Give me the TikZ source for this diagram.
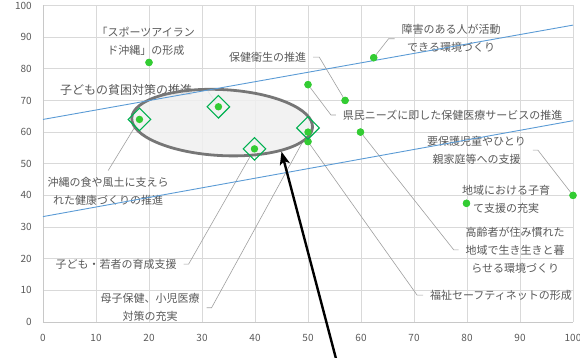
\documentclass[tikz,border=0pt]{standalone}
\usepackage{fontspec}
\setmainfont{Noto Sans CJK JP}
\usetikzlibrary{positioning,shapes,arrows.meta}
\definecolor{txtgray}{HTML}{595959}
\definecolor{gridgray}{HTML}{D9D9D9}
\definecolor{axisgray}{HTML}{C8C8C8}
\definecolor{trendblue}{HTML}{5B9BD5}
\definecolor{ptgreen}{HTML}{33CC33}
\definecolor{dmgreen}{HTML}{00B050}
\definecolor{ringgray}{HTML}{767676}
\definecolor{ringfill}{HTML}{F0F0F0}

\begin{document}
\begin{tikzpicture}[
            x=5.3pt, y=3.165pt,
            gridline/.style={ draw=gridgray, line width=0.8pt },
            axisline/.style={ draw=axisgray, line width=0.9pt },
            tick/.style={ text=txtgray, font=\fontsize{10}{12}\selectfont, inner sep=0pt },
            lbl/.style={ text=txtgray, font=\fontsize{11}{18}\selectfont, align=center, inner sep=3pt, outer sep=4pt },
            leader/.style={ draw=gray!75, line width=0.6pt },
            trend/.style={ draw=trendblue, line width=0.9pt },
            pt/.style={ circle, fill=ptgreen, inner sep=0pt, minimum size=7.4pt },
            mark box/.style={ diamond, draw=dmgreen, line width=1.1pt, inner sep=0pt, minimum width=23pt, minimum height=23pt },
            ring/.style={ ellipse, draw=ringgray, line width=2.8pt, fill=ringfill, fill opacity=0.85, minimum width=181pt, minimum height=66pt, rotate=-3 },
            pointer/.style={ draw=black, line width=2.4pt, -{Stealth[length=13pt,width=10pt,inset=3pt]} }
        ]
        \useasboundingbox (-43pt,-36pt) rectangle (537pt,322pt);

        \draw[gridline] (0,0) grid[xstep=10,ystep=10] (100,100);
        \draw[axisline] (0,100) -- (0,0) -- (100,0);
        \foreach \v in {0,10,...,100} {
            \node[tick, anchor=east] (y\v) at ([xshift=-11pt]0,\v) {\v};
            \node[tick] (x\v) at ([yshift=-16pt]\v,0) {\v};
        }

        \node[pt] (p1)  at (20,82) {};
        \node[pt] (p2)  at (18.2,64) {};
        \node[pt] (p3)  at (33.1,68) {};
        \node[pt] (p4)  at (39.9,54.7) {};
        \node[pt] (p5)  at (62.4,83.5) {};
        \node[pt] (p6)  at (50,75) {};
        \node[pt] (p7)  at (57,70) {};
        \node[pt] (p8)  at (50,60) {};
        \node[pt] (p9)  at (50,57) {};
        \node[pt] (p10) at (59.9,60) {};
        \node[pt] (p11) at (79.9,37.5) {};
        \node[pt] (p12) at (100,40) {};

        \node[lbl] (l1)  at (19.4,88.8) {「スポーツアイラン\\ド沖縄」の形成};
        \node[lbl] (l2)  at (42.4,83.7) {保健衛生の推進};
        \node[lbl] (l3)  at (77,89.5) {障害のある人が活動\\できる環境づくり};
        \node[lbl] (l4)  at (77.3,65.4) {県民ニーズに即した保健医療サービスの推進};
        \node[lbl, font=\fontsize{12}{18}\selectfont] (l5) at (15.7,73.3) {子どもの貧困対策の推進};
        \node[lbl] (l6)  at (12.3,41.2) {沖縄の食や風土に支えら\\れた健康づくりの推進};
        \node[lbl] (l7)  at (13.8,18.3) {子ども・若者の育成支援};
        \node[lbl] (l8)  at (20.2,4.5) {母子保健、小児医療\\対策の充実};
        \node[lbl] (l9)  at (86.4,8.5) {福祉セーフティネットの形成};
        \node[lbl] (l10) at (89.1,22.8) {高齢者が住み慣れた\\地域で生き生きと暮\\らせる環境づくり};
        \node[lbl] (l11) at (81.8,54.3) {要保護児童やひとり\\親家庭等への支援};
        \node[lbl] (l12) at (87.4,38.9) {地域における子育\\て支援の充実};

        \draw[leader] (l2.east) -- ++(6pt,0) -- (p7);
        \draw[leader] (l3.west) -- ++(-6pt,0) -- (p5);
        \draw[leader] (l4.west) -- ++(-5pt,0) -- (p6);
        \draw[leader] (l5.east) -- ++(8pt,0) -- (p3);
        \draw[leader] (l6.north) -- (p2);
        \draw[leader] (l7.east) -- ++(5pt,0) -- (p4);
        \draw[leader] (l8.east) -- ++(5pt,0) -- (p8);
        \draw[leader] (l9.west) -- ++(-6pt,0) -- (p9);
        \draw[leader] (l10.west) -- ++(-5pt,0) -- (p10);
        \draw[leader] (l11.east) -- ++(5pt,0) -- (p12);

        \node[ring] (focus) at (33.8,63) {};

        \draw[trend] (0,64) -- (100,93.8);
        \draw[trend] (0,33.3) -- (100,63.6);

        \foreach \p in {p1,p2,p3,p4,p5,p6,p7,p8,p9,p10,p11,p12}
            \fill[ptgreen] (\p) circle (3.7pt);

        \node[mark box] (d1) at (18.2,64) {};
        \node[mark box] (d2) at (33.1,68) {};
        \node[mark box] (d3) at (39.9,54.7) {};
        \node[mark box] (d4) at (50,61.3) {};

        \coordinate (arrtail) at (55.6,-13.6);
        \draw[pointer] (arrtail) -- (focus.-23);
\end{tikzpicture}
\end{document}
